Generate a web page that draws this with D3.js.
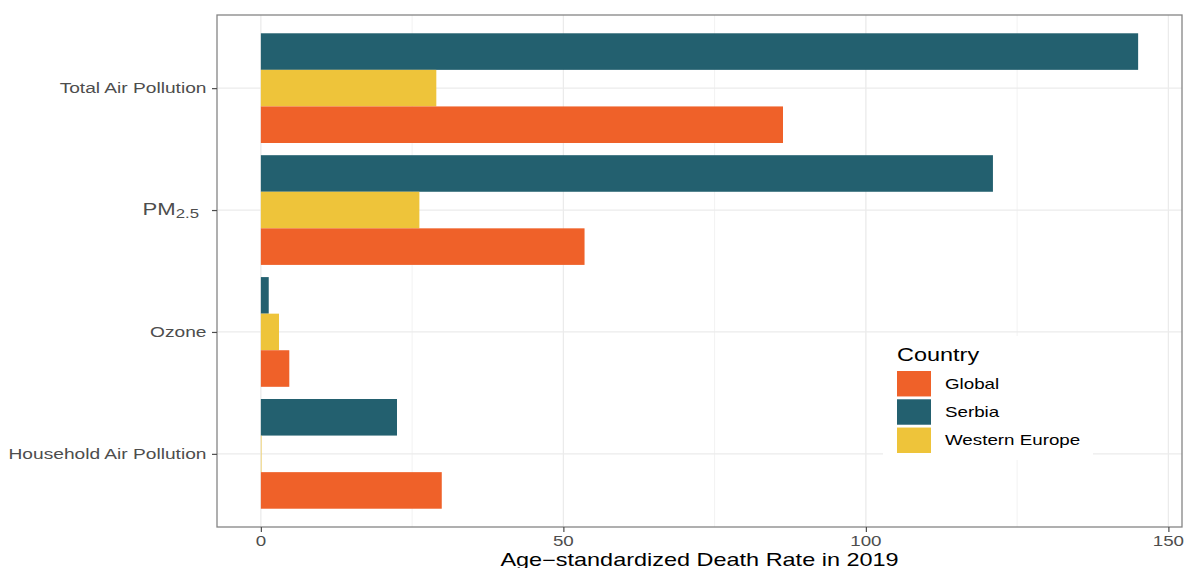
<!DOCTYPE html>
<html>
<head>
<meta charset="utf-8">
<script src="https://cdn.jsdelivr.net/npm/d3@7"></script>
<style>
  html, body { margin: 0; padding: 0; background: #ffffff; }
  svg { display: block; font-family: "Liberation Sans", Arial, Helvetica, sans-serif; }
</style>
</head>
<body>
<svg id="chart" width="1185" height="568"></svg>
<script>
// Pollution risk factors, top to bottom
const categories = ["Total Air Pollution", "PM2.5", "Ozone", "Household Air Pollution"];
// Countries as drawn inside each group, top to bottom
const barOrder = ["Serbia", "Western Europe", "Global"];
// Legend order
const countries = ["Global", "Serbia", "Western Europe"];

// Age-standardized death rate per 100,000 in 2019
const globalValues  = [86.3, 53.5, 4.7, 29.9];
const serbiaValues  = [145.0, 121.0, 1.3, 22.5];
const westernValues = [29.0, 26.2, 3.0, 0.1];

const xTicks = [0, 50, 100, 150];
const xMinorTicks = [25, 75, 125];
const xTitle = "Age\u2212standardized Death Rate in 2019";
const legendTitle = "Country";

const colors = { "Global": "#EF6129", "Serbia": "#23606F", "Western Europe": "#EEC43A" };

const seriesValues = { "Global": globalValues, "Serbia": serbiaValues, "Western Europe": westernValues };
const rows = [];
categories.forEach((c, i) => {
  barOrder.forEach(s => rows.push({ category: c, country: s, value: seriesValues[s][i] }));
});

const svg = d3.select("#chart");
const panel = { left: 217, right: 1182, top: 15, bottom: 527 };
const stretch = 1.34; // horizontal text stretch

const xMax = d3.max(rows, d => d.value);
const pad = xMax * 0.05;
const x = d3.scaleLinear().domain([-pad, xMax + pad]).range([panel.left, panel.right]);
const y = d3.scalePoint().domain(categories).range([panel.top, panel.bottom]).padding(0.6);
const step = y.step();
const inner = d3.scaleBand().domain(barOrder).range([-0.45 * step, 0.45 * step]).padding(0);

// Panel background
svg.append("rect")
  .attr("x", panel.left).attr("y", panel.top)
  .attr("width", panel.right - panel.left).attr("height", panel.bottom - panel.top)
  .attr("fill", "#ffffff");

// Grid lines
const grid = svg.append("g");
grid.selectAll("line.minor").data(xMinorTicks).join("line")
  .attr("x1", d => x(d)).attr("x2", d => x(d))
  .attr("y1", panel.top).attr("y2", panel.bottom)
  .attr("stroke", "#f2f2f2").attr("stroke-width", 1);
grid.selectAll("line.majorx").data(xTicks).join("line")
  .attr("x1", d => x(d)).attr("x2", d => x(d))
  .attr("y1", panel.top).attr("y2", panel.bottom)
  .attr("stroke", "#ebebeb").attr("stroke-width", 1.3);
grid.selectAll("line.majory").data(categories).join("line")
  .attr("x1", panel.left).attr("x2", panel.right)
  .attr("y1", d => y(d)).attr("y2", d => y(d))
  .attr("stroke", "#ebebeb").attr("stroke-width", 1.3);

// Bars
svg.append("g").selectAll("rect").data(rows).join("rect")
  .attr("x", x(0))
  .attr("y", d => y(d.category) + inner(d.country))
  .attr("width", d => Math.max(0, x(d.value) - x(0)))
  .attr("height", inner.bandwidth())
  .attr("fill", d => colors[d.country]);

// Panel border
svg.append("rect")
  .attr("x", panel.left).attr("y", panel.top)
  .attr("width", panel.right - panel.left).attr("height", panel.bottom - panel.top)
  .attr("fill", "none").attr("stroke", "#858585").attr("stroke-width", 1.3);

// Helper: stretched text anchored at (px, py)
function stretchedText(g, px, py, anchor) {
  return g.append("g")
    .attr("transform", `translate(${px},${py}) scale(${stretch},1)`)
    .append("text").attr("text-anchor", anchor);
}

// X axis
const xAxis = svg.append("g").attr("transform", `translate(0,${panel.bottom})`)
  .call(d3.axisBottom(x).tickValues(xTicks).tickSize(5).tickFormat(d3.format("d")));
xAxis.select(".domain").remove();
xAxis.selectAll(".tick line").attr("stroke", "#4d4d4d").attr("stroke-width", 1.2);
xAxis.selectAll(".tick text").remove();
xTicks.forEach(t => {
  stretchedText(svg, x(t), 546, "middle")
    .attr("font-size", 14).attr("fill", "#4d4d4d").text(d3.format("d")(t));
});
stretchedText(svg, (panel.left + panel.right) / 2, 566, "middle")
  .attr("font-size", 17.5).attr("fill", "#000000").text(xTitle);

// Y axis
const yAxis = svg.append("g").attr("transform", `translate(${panel.left},0)`)
  .call(d3.axisLeft(y).tickSize(5));
yAxis.select(".domain").remove();
yAxis.selectAll(".tick line").attr("stroke", "#4d4d4d").attr("stroke-width", 1.2);
yAxis.selectAll(".tick text").remove();
categories.forEach(c => {
  if (c === "PM2.5") {
    const t = stretchedText(svg, 199, y(c) + 5, "end").attr("fill", "#4d4d4d");
    t.append("tspan").attr("font-size", 16.5).text("PM");
    t.append("tspan").attr("font-size", 12.5).attr("dy", 3).text("2.5");
  } else {
    stretchedText(svg, 206.5, y(c) + 5, "end")
      .attr("font-size", 14.3).attr("fill", "#4d4d4d").text(c);
  }
});

// Legend
const legend = svg.append("g");
legend.append("rect")
  .attr("x", 883).attr("y", 336).attr("width", 210).attr("height", 124)
  .attr("fill", "#ffffff");
stretchedText(legend, 897, 361, "start")
  .attr("font-size", 17.5).attr("fill", "#000000").text(legendTitle);
const keyY = d3.scaleBand().domain(countries).range([371, 453]).paddingInner(0.1);
countries.forEach(c => {
  legend.append("rect")
    .attr("x", 897).attr("y", keyY(c))
    .attr("width", 34).attr("height", keyY.bandwidth())
    .attr("fill", colors[c]);
  stretchedText(legend, 945, keyY(c) + keyY.bandwidth() / 2 + 5, "start")
    .attr("font-size", 14).attr("fill", "#000000").text(c);
});
</script>
</body>
</html>
